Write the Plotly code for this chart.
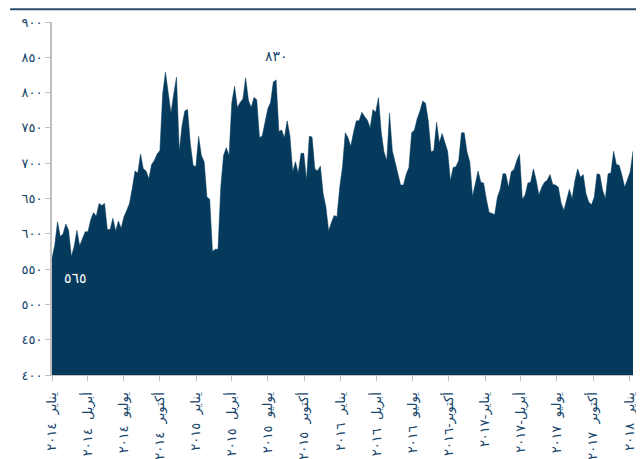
"""Weekly index area chart with Arabic axis labels."""

import pandas as pd
import plotly.graph_objects as go

# colours
_NAVY = "#053a5c"
_TEXT = "#17466b"
_AXIS_GREY = "#bfbfbf"
_TOP_RULE = "#2b4b6b"
_FONT = "DejaVu Sans"

# weekly readings, starting first week of January 2014
START_DATE = "2014-01-01"
VALUES = [
    565, 584, 617, 596, 600, 614, 605, 568, 582, 605, 583, 592,
    603, 603, 620, 630, 625, 643, 640, 643, 606, 606, 622, 604, 618, 608, 624, 633,
    643, 664, 689, 686, 713, 692, 689, 678, 698, 704, 713, 718, 798, 829, 798,
    771, 798, 822, 717, 753, 774, 776, 728, 697, 695, 738,
    711, 702, 652, 649, 575, 578, 578, 666, 711, 722, 711, 786, 809, 779, 786,
    791, 821, 789, 779, 793, 790, 736, 739, 758, 777, 786, 815, 818, 745, 747,
    736, 760, 739, 688, 702, 686, 714, 714, 676, 738, 737, 692, 689, 696, 657,
    638, 604, 616, 626, 624, 666, 695,
    743, 736, 724, 744, 760, 760, 772, 766, 761, 750, 776, 772,
    793, 744, 716, 704, 771, 718, 700, 685, 669, 669, 684, 694,
    743, 747, 763, 774, 788, 785, 760, 716, 718, 758, 729, 742, 729, 717,
    675, 694, 695, 704, 743, 743, 716, 702, 653, 670, 689, 673, 672, 649,
    630, 629, 627, 652, 663, 685, 685, 666, 688, 691, 704, 713, 649, 655, 672,
    673, 692, 676, 655, 666, 673, 676, 684, 670, 669, 666, 644, 633, 650, 663,
    650, 675, 692, 680, 684, 657, 645, 641, 652, 685, 684, 662, 650, 685, 686,
    717, 698, 697, 683, 666, 677, 688, 717,
]

# quarterly ticks on the date axis
X_TICK_DATES = [
    "2014-01-01", "2014-04-01", "2014-07-01", "2014-10-01",
    "2015-01-01", "2015-04-01", "2015-07-01", "2015-10-01",
    "2016-01-01", "2016-04-01", "2016-07-01", "2016-10-01",
    "2017-01-01", "2017-04-01", "2017-07-01", "2017-10-01",
    "2018-01-01",
]
X_TICK_TEXT = [
    "يناير ٢٠١٤", "أبريل ٢٠١٤", "يوليو ٢٠١٤", "أكتوبر ٢٠١٤",
    "يناير ٢٠١٥", "أبريل ٢٠١٥", "يوليو ٢٠١٥", "أكتوبر ٢٠١٥",
    "يناير ٢٠١٦", "أبريل ٢٠١٦", "يوليو ٢٠١٦", "أكتوبر-٢٠١٦",
    "يناير-٢٠١٧", "أبريل-٢٠١٧", "يوليو ٢٠١٧", "أكتوبر ٢٠١٧",
    "يناير ٢٠١٨",
]
Y_TICK_VALS = [400, 450, 500, 550, 600, 650, 700, 750, 800, 850, 900]
Y_TICK_TEXT = ["٤٠٠", "٤٥٠", "٥٠٠", "٥٥٠", "٦٠٠", "٦٥٠", "٧٠٠", "٧٥٠", "٨٠٠", "٨٥٠", "٩٠٠"]

# callouts
PEAK_LABEL, PEAK_DATE, PEAK_Y = "٨٣٠", "2015-07-22", 852
START_LABEL, START_LABEL_DATE, START_LABEL_Y = "٥٦٥", "2014-03-01", 537

dates = pd.date_range(START_DATE, periods=len(VALUES), freq="7D")

# the source spaces month and year widely apart
x_labels = [t.replace(" ", "\u00a0\u00a0") for t in X_TICK_TEXT]

fig = go.Figure(go.Scatter(
    x=dates,
    y=VALUES,
    mode="lines",
    line=dict(color=_NAVY, width=0.5),
    fill="tozeroy",
    fillcolor=_NAVY,
    hoverinfo="x+y",
    showlegend=False,
))

fig.add_annotation(
    x=PEAK_DATE, y=PEAK_Y, text=PEAK_LABEL, showarrow=False,
    font=dict(family=_FONT, size=14, color=_TEXT),
)
fig.add_annotation(
    x=START_LABEL_DATE, y=START_LABEL_Y, text=START_LABEL, showarrow=False,
    font=dict(family=_FONT, size=14, color="white"),
)

# thin rule across the top of the page
fig.add_shape(
    type="line", xref="paper", yref="paper",
    x0=-0.072, x1=1.02, y0=1.036, y1=1.036,
    line=dict(color=_TOP_RULE, width=2),
)

# the page body adds an 8px offset, so the figure is a little smaller
fig.update_layout(
    width=636,
    height=451,
    paper_bgcolor="white",
    plot_bgcolor="white",
    margin=dict(l=44, r=11, t=14, b=84),
    font=dict(family=_FONT, size=12, color=_TEXT),
    xaxis=dict(
        range=["2014-01-01", "2018-01-10"],
        tickmode="array",
        tickvals=X_TICK_DATES,
        ticktext=x_labels,
        tickangle=-90,
        ticks="outside",
        ticklen=5,
        tickcolor=_AXIS_GREY,
        ticklabelstandoff=6,
        showline=True,
        linecolor=_AXIS_GREY,
        linewidth=1,
        showgrid=False,
        zeroline=False,
        automargin=False,
        tickfont=dict(family=_FONT, size=13, color=_TEXT),
    ),
    yaxis=dict(
        range=[400, 900],
        tickmode="array",
        tickvals=Y_TICK_VALS,
        ticktext=Y_TICK_TEXT,
        ticks="outside",
        ticklen=5,
        tickcolor=_AXIS_GREY,
        showline=True,
        linecolor=_AXIS_GREY,
        linewidth=2,
        showgrid=False,
        zeroline=False,
        automargin=False,
        tickfont=dict(family=_FONT, size=13, color=_TEXT),
    ),
)

fig.write_html("out.html")
